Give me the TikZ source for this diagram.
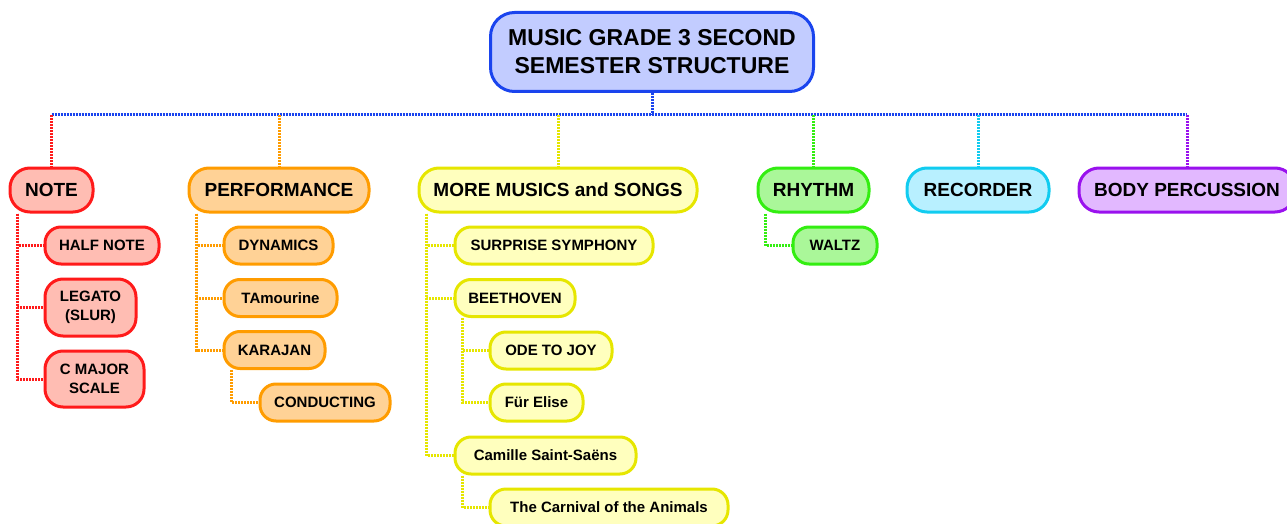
\documentclass[tikz,border=0pt]{standalone}
\usepackage{fontspec}
\setmainfont{Liberation Sans}
\definecolor{redB}{HTML}{FF1A1A}\definecolor{redF}{HTML}{FFBDB3}
\definecolor{orB}{HTML}{FF9C00}\definecolor{orF}{HTML}{FFD296}
\definecolor{yeB}{HTML}{E6E600}\definecolor{yeF}{HTML}{FFFFBE}
\definecolor{grB}{HTML}{33EE11}\definecolor{grF}{HTML}{AAF799}
\definecolor{cyB}{HTML}{11CCF0}\definecolor{cyF}{HTML}{B8F0FF}
\definecolor{puB}{HTML}{9A11EE}\definecolor{puF}{HTML}{E2B8FF}
\definecolor{blB}{HTML}{1A44EE}\definecolor{blF}{HTML}{C2CCFF}
\begin{document}
\begin{tikzpicture}[x=1pt,y=-1pt,
  box/.style={draw, line width=3pt, inner sep=0pt, align=center, text=black},
  rootbox/.style={box, minimum height=79pt, rounded corners=24pt, font=\fontsize{23}{28}\selectfont\bfseries},
  lone/.style={box, minimum height=44pt, rounded corners=20pt, font=\fontsize{19}{22}\selectfont\bfseries},
  ltwo/.style={box, minimum height=37pt, rounded corners=16pt, font=\fontsize{15}{19}\selectfont\bfseries},
  red/.style={draw=redB, fill=redF}, org/.style={draw=orB, fill=orF},
  yel/.style={draw=yeB, fill=yeF}, grn/.style={draw=grB, fill=grF},
  cyn/.style={draw=cyB, fill=cyF}, pur/.style={draw=puB, fill=puF},
  blu/.style={draw=blB, fill=blF},
  dotline/.style={line width=3pt, dash pattern=on 2pt off 1pt},
  bx/.style={xshift=9pt}]
\useasboundingbox (0,0) rectangle (1287,524);
% connectors first
\node[rootbox, blu, minimum width=323pt] (root) at (652,52) {MUSIC GRADE 3 SECOND\\SEMESTER STRUCTURE};
\node[lone, red, minimum width=83pt] (note) at (51.5,190) {NOTE};
\node[lone, org, minimum width=180pt] (perf) at (279,190) {PERFORMANCE};
\node[lone, yel, minimum width=278pt] (more) at (558,190) {MORE MUSICS and SONGS};
\node[lone, grn, minimum width=111pt] (rhy) at (813.5,190) {RHYTHM};
\node[lone, cyn, minimum width=142pt] (rec) at (978,190) {RECORDER};
\node[lone, pur, minimum width=216pt] (body) at (1187,190) {BODY PERCUSSION};
\node[ltwo, red, minimum width=114pt] (half) at (102,245.5) {HALF NOTE};
\node[ltwo, red, minimum width=91pt, minimum height=57pt, rounded corners=18pt] (leg) at (90.5,307.5) {LEGATO\\(SLUR)};
\node[ltwo, red, minimum width=99pt, minimum height=56pt, rounded corners=18pt] (cmaj) at (94.5,379) {C MAJOR\\SCALE};
\node[ltwo, org, minimum width=109pt] (dyn) at (278.5,245.5) {DYNAMICS};
\node[ltwo, org, minimum width=113pt] (tam) at (280.5,298) {TAmourine};
\node[ltwo, org, minimum width=101pt] (kar) at (274.5,350) {KARAJAN};
\node[ltwo, org, minimum width=130pt] (cond) at (325,402.5) {CONDUCTING};
\node[ltwo, yel, minimum width=198pt] (surp) at (554,245.5) {SURPRISE SYMPHONY};
\node[ltwo, yel, minimum width=120pt] (beet) at (515,298) {BEETHOVEN};
\node[ltwo, yel, minimum width=122pt] (ode) at (551,350.5) {ODE TO JOY};
\node[ltwo, yel, minimum width=93pt] (fur) at (536.5,402.5) {Für Elise};
\node[ltwo, yel, minimum width=181pt] (cam) at (545.5,455.5) {Camille Saint-Saëns};
\node[ltwo, yel, minimum width=238pt] (carn) at (609,507.5) {The Carnival of the Animals};
\node[ltwo, grn, minimum width=84pt] (waltz) at (835,245.5) {WALTZ};
% bus
\coordinate (busL) at (51.5,115);
\coordinate (busR) at (1187,115);
\draw[dotline, blB] (root.south) -- (root.south |- busL);
\draw[dotline, blB] (busL) -- (busR);
\draw[dotline, redB] (note.north |- busL) -- (note.north);
\draw[dotline, orB] (perf.north |- busL) -- (perf.north);
\draw[dotline, yeB] (more.north |- busL) -- (more.north);
\draw[dotline, grB] (rhy.north |- busL) -- (rhy.north);
\draw[dotline, cyB] (rec.north |- busL) -- (rec.north);
\draw[dotline, puB] (body.north |- busL) -- (body.north);
% children connectors
\foreach \c in {half,leg,cmaj}{\draw[dotline, redB] ([bx]note.south west) |- (\c.west);}
\foreach \c in {dyn,tam,kar}{\draw[dotline, orB] ([bx]perf.south west) |- (\c.west);}
\draw[dotline, orB] ([bx]kar.south west) |- (cond.west);
\foreach \c in {surp,beet,cam}{\draw[dotline, yeB] ([bx]more.south west) |- (\c.west);}
\foreach \c in {ode,fur}{\draw[dotline, yeB] ([bx]beet.south west) |- (\c.west);}
\draw[dotline, yeB] ([bx]cam.south west) |- (carn.west);
\draw[dotline, grB] ([bx]rhy.south west) |- (waltz.west);
\end{tikzpicture}
\end{document}
